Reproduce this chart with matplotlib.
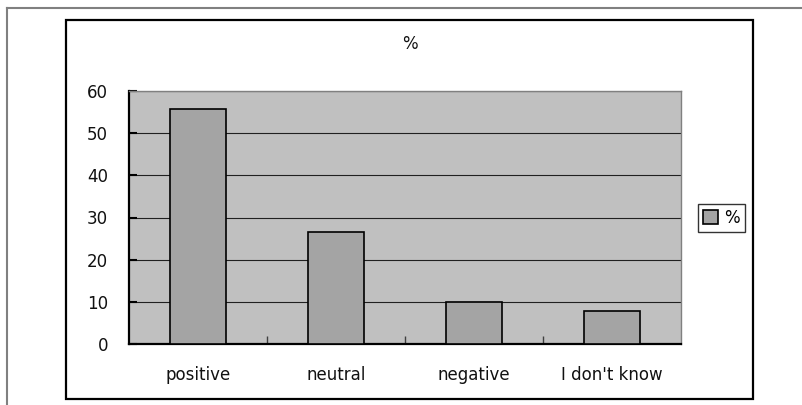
import numpy as np
from matplotlib import pyplot as plt
from matplotlib.patches import Rectangle, Patch
from matplotlib.lines import Line2D

categories = ['positive', 'neutral', 'negative', "I don't know"]
values = [55.7, 26.6, 10.0, 7.8]
series_name = '%'
yticks = [0, 10, 20, 30, 40, 50, 60]

W, H = 802, 405
fig = plt.figure(figsize=(W / 100, H / 100), dpi=100)
fig.patch.set_facecolor('white')

def fx(px):
    return px / W

def fy(py):
    return 1 - py / H

# page edge lines and the chart frame
fig.add_artist(Line2D([fx(7), fx(802)], [fy(8), fy(8)], color='#808080', lw=1.5))
fig.add_artist(Line2D([fx(7), fx(7)], [fy(8), fy(405)], color='#808080', lw=1.5))
fig.add_artist(Rectangle((fx(66), fy(399)), fx(753) - fx(66), fy(20) - fy(399),
                         fill=False, edgecolor='black', lw=1.6))

ax = fig.add_axes([fx(129), fy(344), fx(681) - fx(129), fy(91) - fy(344)])
ax.set_facecolor('#c0c0c0')

x = np.arange(len(categories))
ax.bar(x, values, width=0.4, color='#a4a4a4', edgecolor='black', linewidth=1.2, zorder=3)

ax.set_xlim(-0.5, len(categories) - 0.5)
ax.set_ylim(0, 60)
ax.set_yticks(yticks)
ax.yaxis.grid(True, color='#202020', linewidth=0.8, zorder=1)
ax.set_axisbelow(True)

# category separators as ticks on the x axis
ax.set_xticks(np.arange(0.5, len(categories) - 1, 1.0))
ax.set_xticklabels([])
ax.tick_params(axis='x', direction='in', length=6, width=1, color='#404040')
ax.set_xticks(x, minor=True)
ax.set_xticklabels(categories, minor=True)
ax.tick_params(axis='x', which='minor', length=0, pad=16, labelsize=12, labelcolor='#111111')
ax.tick_params(axis='y', direction='in', length=6, width=1.5, pad=15, labelsize=12,
               labelcolor='#111111')
for lab in ax.get_yticklabels():
    lab.set_horizontalalignment('right')

for s in ['left', 'bottom']:
    ax.spines[s].set_color('black')
    ax.spines[s].set_linewidth(1.6)
for s in ['top', 'right']:
    ax.spines[s].set_color('#808080')
    ax.spines[s].set_linewidth(1.0)

fig.text(fx(410), fy(44), '%', ha='center', va='center', fontsize=12, color='#111111')

handle = Patch(facecolor='#a4a4a4', edgecolor='black', linewidth=1.2)
leg = fig.legend([handle], [series_name], loc='center',
                 bbox_to_anchor=(fx(721.5), fy(218)), fontsize=12,
                 frameon=True, fancybox=False, handlelength=0.9, handleheight=0.9,
                 handletextpad=0.4, borderpad=0.3)
leg.get_frame().set_edgecolor('black')
leg.get_frame().set_linewidth(1.0)

fig.savefig('out.png', dpi=100)
